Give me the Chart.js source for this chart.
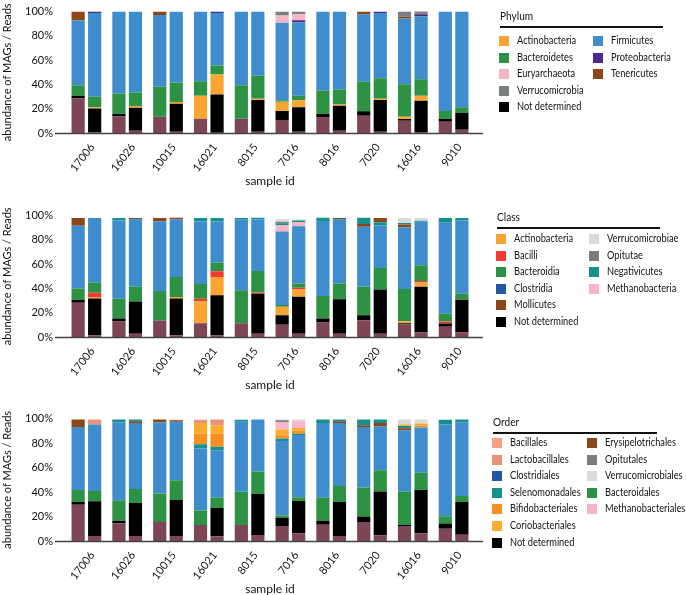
<!DOCTYPE html>
<html>
<head>
<meta charset="utf-8">
<script src="https://cdn.jsdelivr.net/npm/chart.js@4.4.1/dist/chart.umd.min.js"></script>
<style>
  body { margin: 0; background: #fff; font-family: Lato, sans-serif; }
  #wrap { position: relative; width: 686px; height: 595px; overflow: hidden; }
  canvas { position: absolute; left: 0; }
  .lg { position: absolute; font-size: 10.5px; color: #111; white-space: nowrap; transform: scaleX(0.88); transform-origin: left center; }
  .lg-title { position: absolute; font-size: 11px; color: #111; transform: scaleX(0.92); transform-origin: left center; }
  .lg-line { position: absolute; height: 1.5px; background: #111; }
  .sw { position: absolute; width: 10px; height: 10px; }
</style>
</head>
<body>
<div id="wrap">
  <canvas id="c1" width="686" height="201" style="top:-8px"></canvas>
  <canvas id="c2" width="686" height="201" style="top:196px"></canvas>
  <canvas id="c3" width="686" height="202" style="top:399px"></canvas>
</div>
<script>
const samples = ['17006', '16026', '10015', '16021', '8015', '7016', '8016', '7020', '16016', '9010'];
const yTicks = [0, 20, 40, 60, 80, 100];

// colours
const cMaroon = '#7d4654', cBlack = '#000000', cOrange = '#f9a533', cGreen = '#2e9245';
const cBlue = '#3f8dcc', cPink = '#f7b6c5', cPurple = '#4a2a8c', cBrown = '#8a4719';
const cGrey = '#7b7e7e', cLightGrey = '#dadada', cRed = '#ee3b34', cDarkBlue = '#2357a8';
const cTeal = '#16908c', cBacillales = '#f7a084', cLacto = '#e8927c', cBifido = '#f7901e', cCorio = '#fbab30';

// ---- Phylum ----
const phyMagsMaroon = [28.4, 13.7, 13.4, 11.7, 11.7, 10.7, 13.1, 14.2, 10.1, 9.3];
const phyMagsNotDet = [2.2, 1.9, 0, 0, 0, 7.4, 2.5, 3.8, 1.4, 2.5];
const phyMagsActino = [0, 0, 0, 18.9, 0, 7.7, 0, 0, 1.9, 0];
const phyMagsBacteroidetes = [8.7, 16.9, 24.6, 12, 27.6, 1.1, 19.1, 24.3, 26.8, 6.3];
const phyMagsFirmicutes = [53.3, 67.5, 59.3, 57.4, 60.7, 63.9, 65.3, 55.5, 54.4, 82];
const phyMagsEury = [0, 0, 0, 0, 0, 6, 0, 0, 0, 0];
const phyMagsTeneri = [7.4, 0, 2.7, 0, 0, 0, 0, 2.2, 1.4, 0];
const phyMagsVerruco = [0, 0, 0, 0, 0, 3.3, 0, 0, 4.1, 0];

const phyReadsMaroon = [0.5, 1.9, 1.1, 0.3, 1.1, 1.1, 1.9, 1.1, 0.8, 2.7];
const phyReadsNotDet = [19.7, 18.9, 23, 31.4, 26, 20.2, 20.5, 26, 25.7, 13.7];
const phyReadsActino = [1.1, 1.4, 1.4, 16.4, 1.1, 5.7, 1.1, 1.1, 4.1, 0];
const phyReadsBacteroidetes = [8.5, 11.2, 16.1, 7.4, 18.9, 3.6, 12.3, 16.9, 13.7, 4.9];
const phyReadsFirmicutes = [69.1, 66.7, 58.5, 43.4, 53, 60.7, 64.2, 53.8, 51.9, 78.7];
const phyReadsProteo = [1.1, 0, 0, 1.1, 0, 1.6, 0, 1.1, 1.6, 0];
const phyReadsEury = [0, 0, 0, 0, 0, 4.9, 0, 0, 0, 0];
const phyReadsTeneri = [0, 0, 0, 0, 0, 0, 0, 0, 0.5, 0];
const phyReadsVerruco = [0, 0, 0, 0, 0, 2.2, 0, 0, 2.2, 0];

// ---- Class ----
const clsMagsMaroon = [28.3, 12.8, 13.6, 11.4, 11.4, 10, 12, 13.9, 10.3, 8.4];
const clsMagsNotDet = [2.2, 2.4, 0, 0, 0, 7.9, 3.3, 4.1, 1.1, 2.7];
const clsMagsActino = [0, 0, 0, 17.9, 0, 7.1, 0, 0, 1.6, 0];
const clsMagsBacilli = [0, 0, 0, 2.2, 0, 0, 0, 0, 0, 1.6];
const clsMagsBacteroidia = [9.5, 16.3, 24.2, 12.2, 27.2, 1.4, 18.5, 23.4, 26.6, 6.5];
const clsMagsClostridia = [51.6, 64.4, 57.6, 51.6, 57.9, 60.6, 61.7, 49.5, 50.8, 75];
const clsMagsMollicutes = [6.5, 0, 2.7, 0, 0, 0, 0, 2.2, 2.2, 0];
const clsMagsMethano = [0, 0, 0, 0, 0, 5.2, 0, 0, 0, 0];
const clsMagsNegativicutes = [0, 2.2, 0, 2.7, 1.6, 1.4, 2.7, 5.2, 1.4, 3.8];
const clsMagsOpitutae = [0, 0, 0, 0, 0, 1.4, 0, 0, 0, 0];
const clsMagsVerruco = [0, 0, 0, 0, 0, 2.2, 0, 0, 4.1, 0];

const clsReadsMaroon = [1.4, 2.7, 1.4, 1.4, 2.7, 2.7, 2.7, 2.7, 3.8, 3.8];
const clsReadsNotDet = [30.4, 26.6, 30.4, 32.9, 32.9, 30.4, 28.3, 36.4, 37.5, 26.9];
const clsReadsActino = [1.1, 0, 1.1, 15.2, 0, 6, 0, 0, 3.5, 0];
const clsReadsBacilli = [3.5, 0, 0, 4.6, 1.1, 1.4, 0, 0, 1.4, 0];
const clsReadsBacteroidia = [8.2, 12, 16.6, 7.3, 17.7, 3.5, 12.8, 17.7, 12.8, 4.9];
const clsReadsClostridia = [53.5, 55.2, 47.3, 34, 42.4, 47.3, 52.7, 35.3, 35.9, 60.3];
const clsReadsMethano = [0, 0, 0, 0, 0, 3.5, 0, 0, 0, 0];
const clsReadsNegativicutes = [0, 0.8, 0, 2.7, 1.4, 1.1, 0.8, 2.4, 0.8, 2.2];
const clsReadsMollicutes = [0, 0.8, 1.4, 0, 0, 0, 0.8, 3.5, 0, 0];
const clsReadsVerruco = [0, 0, 0, 0, 0, 1.1, 0, 0, 2.4, 0];

// ---- Order ----
const ordMagsMaroon = [29.6, 14.4, 15.5, 13, 13, 12.2, 13.3, 15.5, 12.2, 10];
const ordMagsNotDet = [2.2, 2.2, 0, 0, 0, 6.8, 3.3, 4.6, 0.8, 4.3];
const ordMagsBacteroidales = [9.8, 16.6, 23.4, 12, 27.2, 1.9, 18.8, 23.6, 27.2, 6];
const ordMagsClostridiales = [51.6, 63.9, 57.9, 50.5, 57.3, 60.9, 61.1, 49.5, 50.3, 75];
const ordMagsErysipelo = [6, 0, 2.4, 0, 0, 0, 0, 1.4, 1.6, 0];
const ordMagsSelenomonadales = [0, 2.2, 0, 3.5, 1.6, 1.9, 2.7, 4.6, 1.9, 3.8];
const ordMagsBifido = [0, 0, 0, 8.7, 0, 2.7, 0, 0, 0, 0];
const ordMagsCorio = [0, 0, 0, 8.7, 0, 4.6, 0, 0, 1.1, 0];
const ordMagsLacto = [0, 0, 0, 2.7, 0, 0, 0, 0, 0, 0];
const ordMagsMethano = [0, 0, 0, 0, 0, 6.3, 0, 0, 0, 0];
const ordMagsOpitutales = [0, 0, 0, 0, 0, 1.4, 0, 0, 0, 0];
const ordMagsVerruco = [0, 0, 0, 0, 0, 0.5, 0, 0, 4.1, 0];

const ordReadsMaroon = [4.1, 4.1, 4.1, 3.8, 4.9, 6.3, 4.1, 4.6, 6.3, 5.2];
const ordReadsNotDet = [28.3, 26.9, 29.3, 23.1, 33.7, 26.4, 28, 35.9, 35.3, 26.6];
const ordReadsBacteroidales = [8.4, 11.4, 16.3, 8.4, 18.2, 3, 12.8, 17.4, 14.1, 4.9];
const ordReadsClostridiales = [54.3, 54.1, 47.8, 38.9, 42.4, 50.8, 51.6, 35.6, 37, 60.3];
const ordReadsErysipelo = [0, 1.4, 1.1, 0, 0, 0, 1.4, 3, 0, 0];
const ordReadsSelenomonadales = [0, 1.4, 0, 2.7, 0, 1.1, 1.4, 2.7, 0, 2.2];
const ordReadsBifido = [0, 0, 0, 10.9, 0, 2.4, 0, 0, 1.5, 0];
const ordReadsCorio = [0, 0, 0, 6.8, 0, 2.4, 0, 0, 1.8, 0];
const ordReadsLacto = [4.1, 0, 0.5, 4.6, 0, 0, 0, 0, 0, 0];
const ordReadsMethano = [0, 0, 0, 0, 0, 5.4, 0, 0, 0, 0];
const ordReadsVerruco = [0, 0, 0, 0, 0, 1.4, 0, 0, 3.3, 0];

// legend entries
const phylumCol1 = ['Actinobacteria', 'Bacteroidetes', 'Euryarchaeota', 'Verrucomicrobia', 'Not determined'];
const phylumCol1Colors = [cOrange, cGreen, cPink, cGrey, cBlack];
const phylumCol2 = ['Firmicutes', 'Proteobacteria', 'Tenericutes'];
const phylumCol2Colors = [cBlue, cPurple, cBrown];

const classCol1 = ['Actinobacteria', 'Bacilli', 'Bacteroidia', 'Clostridia', 'Mollicutes', 'Not determined'];
const classCol1Colors = [cOrange, cRed, cGreen, cDarkBlue, cBrown, cBlack];
const classCol2 = ['Verrucomicrobiae', 'Opitutae', 'Negativicutes', 'Methanobacteria'];
const classCol2Colors = [cLightGrey, cGrey, cTeal, cPink];

const orderCol1 = ['Bacillales', 'Lactobacillales', 'Clostridiales', 'Selenomonadales', 'Bifidobacteriales', 'Coriobacteriales', 'Not determined'];
const orderCol1Colors = [cBacillales, cLacto, cDarkBlue, cTeal, cBifido, cCorio, cBlack];
const orderCol2 = ['Erysipelotrichales', 'Opitutales', 'Verrucomicrobiales', 'Bacteroidales', 'Methanobacteriales'];
const orderCol2Colors = [cBrown, cGrey, cLightGrey, cGreen, cPink];

function bar(data, color, stack) {
    return { label: '', data: data, backgroundColor: color, stack: stack, borderWidth: 0 };
}

// baseline that runs a little past the bars on both sides
const baseline = {
    id: 'baseline',
    afterDraw(chart) {
        const a = chart.chartArea, ctx = chart.ctx;
        ctx.save();
        ctx.strokeStyle = '#444';
        ctx.lineWidth = 1.3;
        ctx.beginPath();
        ctx.moveTo(a.left - 11, a.bottom + 0.5);
        ctx.lineTo(a.right + 9, a.bottom + 0.5);
        ctx.stroke();
        ctx.restore();
    }
};

function makeChart(id, datasets) {
    new Chart(document.getElementById(id), {
        type: 'bar',
        data: { labels: samples, datasets: datasets },
        options: {
            responsive: false,
            animation: false,
            layout: { padding: { top: 3, right: 212, left: 0, bottom: 0 } },
            datasets: { bar: { categoryPercentage: 0.81, barPercentage: 0.8 } },
            plugins: { legend: { display: false }, tooltip: { enabled: false } },
            scales: {
                x: {
                    stacked: true,
                    grid: { display: false, drawTicks: false },
                    border: { display: false },
                    ticks: { minRotation: 52, maxRotation: 52, padding: 8, labelOffset: 6, color: '#111', font: { family: 'Lato', size: 11 } },
                    title: { display: true, text: 'sample id', color: '#111', font: { family: 'Lato', size: 12 }, padding: { top: 0, bottom: 5 } },
                    afterFit: s => { s.height = 60; }
                },
                y: {
                    stacked: true,
                    min: 0,
                    max: 100,
                    afterBuildTicks: s => { s.ticks = yTicks.map(v => ({ value: v })); },
                    grid: { display: false, drawTicks: false },
                    border: { display: false },
                    ticks: { padding: 13, color: '#111', font: { family: 'Lato', size: 11 }, callback: v => v + '%' },
                    title: { display: true, text: 'abundance of MAGs / Reads', color: '#111', font: { family: 'Lato', size: 11 }, padding: { top: 1, bottom: 0 } },
                    afterFit: s => { s.width = 66; }
                }
            }
        },
        plugins: [baseline]
    });
}

makeChart('c1', [
    bar(phyMagsMaroon, cMaroon, 'MAGs'),
    bar(phyMagsNotDet, cBlack, 'MAGs'),
    bar(phyMagsActino, cOrange, 'MAGs'),
    bar(phyMagsBacteroidetes, cGreen, 'MAGs'),
    bar(phyMagsFirmicutes, cBlue, 'MAGs'),
    bar(phyMagsEury, cPink, 'MAGs'),
    bar(phyMagsTeneri, cBrown, 'MAGs'),
    bar(phyMagsVerruco, cGrey, 'MAGs'),
    bar(phyReadsMaroon, cMaroon, 'Reads'),
    bar(phyReadsNotDet, cBlack, 'Reads'),
    bar(phyReadsActino, cOrange, 'Reads'),
    bar(phyReadsBacteroidetes, cGreen, 'Reads'),
    bar(phyReadsFirmicutes, cBlue, 'Reads'),
    bar(phyReadsProteo, cPurple, 'Reads'),
    bar(phyReadsEury, cPink, 'Reads'),
    bar(phyReadsTeneri, cBrown, 'Reads'),
    bar(phyReadsVerruco, cGrey, 'Reads')
]);

makeChart('c2', [
    bar(clsMagsMaroon, cMaroon, 'MAGs'),
    bar(clsMagsNotDet, cBlack, 'MAGs'),
    bar(clsMagsActino, cOrange, 'MAGs'),
    bar(clsMagsBacilli, cRed, 'MAGs'),
    bar(clsMagsBacteroidia, cGreen, 'MAGs'),
    bar(clsMagsClostridia, cBlue, 'MAGs'),
    bar(clsMagsMollicutes, cBrown, 'MAGs'),
    bar(clsMagsMethano, cPink, 'MAGs'),
    bar(clsMagsNegativicutes, cTeal, 'MAGs'),
    bar(clsMagsOpitutae, cGrey, 'MAGs'),
    bar(clsMagsVerruco, cLightGrey, 'MAGs'),
    bar(clsReadsMaroon, cMaroon, 'Reads'),
    bar(clsReadsNotDet, cBlack, 'Reads'),
    bar(clsReadsActino, cOrange, 'Reads'),
    bar(clsReadsBacilli, cRed, 'Reads'),
    bar(clsReadsBacteroidia, cGreen, 'Reads'),
    bar(clsReadsClostridia, cBlue, 'Reads'),
    bar(clsReadsMethano, cPink, 'Reads'),
    bar(clsReadsNegativicutes, cTeal, 'Reads'),
    bar(clsReadsMollicutes, cBrown, 'Reads'),
    bar(clsReadsVerruco, cLightGrey, 'Reads')
]);

makeChart('c3', [
    bar(ordMagsMaroon, cMaroon, 'MAGs'),
    bar(ordMagsNotDet, cBlack, 'MAGs'),
    bar(ordMagsBacteroidales, cGreen, 'MAGs'),
    bar(ordMagsClostridiales, cBlue, 'MAGs'),
    bar(ordMagsErysipelo, cBrown, 'MAGs'),
    bar(ordMagsSelenomonadales, cTeal, 'MAGs'),
    bar(ordMagsBifido, cBifido, 'MAGs'),
    bar(ordMagsCorio, cCorio, 'MAGs'),
    bar(ordMagsLacto, cLacto, 'MAGs'),
    bar(ordMagsMethano, cPink, 'MAGs'),
    bar(ordMagsOpitutales, cGrey, 'MAGs'),
    bar(ordMagsVerruco, cLightGrey, 'MAGs'),
    bar(ordReadsMaroon, cMaroon, 'Reads'),
    bar(ordReadsNotDet, cBlack, 'Reads'),
    bar(ordReadsBacteroidales, cGreen, 'Reads'),
    bar(ordReadsClostridiales, cBlue, 'Reads'),
    bar(ordReadsErysipelo, cBrown, 'Reads'),
    bar(ordReadsSelenomonadales, cTeal, 'Reads'),
    bar(ordReadsBifido, cBifido, 'Reads'),
    bar(ordReadsCorio, cCorio, 'Reads'),
    bar(ordReadsLacto, cLacto, 'Reads'),
    bar(ordReadsMethano, cPink, 'Reads'),
    bar(ordReadsVerruco, cLightGrey, 'Reads')
]);

// HTML legends on the right of each panel
function legend(x, titleY, lineY, lineW, firstRowY, col2Dx, title, col1, col1Colors, col2, col2Colors) {
    const wrap = document.getElementById('wrap');
    const t = document.createElement('div');
    t.className = 'lg-title';
    t.textContent = title;
    t.style.left = (x + 1) + 'px';
    t.style.top = (titleY - 8) + 'px';
    wrap.appendChild(t);
    const line = document.createElement('div');
    line.className = 'lg-line';
    line.style.left = (x + 1) + 'px';
    line.style.top = lineY + 'px';
    line.style.width = lineW + 'px';
    wrap.appendChild(line);
    const rowH = 16.6;
    const addCol = (names, colors, cx) => {
        names.forEach((name, i) => {
            const y = firstRowY + i * rowH;
            const sw = document.createElement('div');
            sw.className = 'sw';
            sw.style.left = cx + 'px';
            sw.style.top = (y - 5) + 'px';
            sw.style.background = colors[i];
            wrap.appendChild(sw);
            const lb = document.createElement('div');
            lb.className = 'lg';
            lb.textContent = name;
            lb.style.left = (cx + 18) + 'px';
            lb.style.top = (y - 7) + 'px';
            wrap.appendChild(lb);
        });
    };
    addCol(col1, col1Colors, x);
    addCol(col2, col2Colors, x + col2Dx);
}

legend(499, 17, 26, 163, 41, 94, 'Phylum', phylumCol1, phylumCol1Colors, phylumCol2, phylumCol2Colors);
legend(496, 218, 227, 163, 239, 93, 'Class', classCol1, classCol1Colors, classCol2, classCol2Colors);
legend(492, 423, 432, 164, 443, 95, 'Order', orderCol1, orderCol1Colors, orderCol2, orderCol2Colors);
</script>
</body>
</html>
